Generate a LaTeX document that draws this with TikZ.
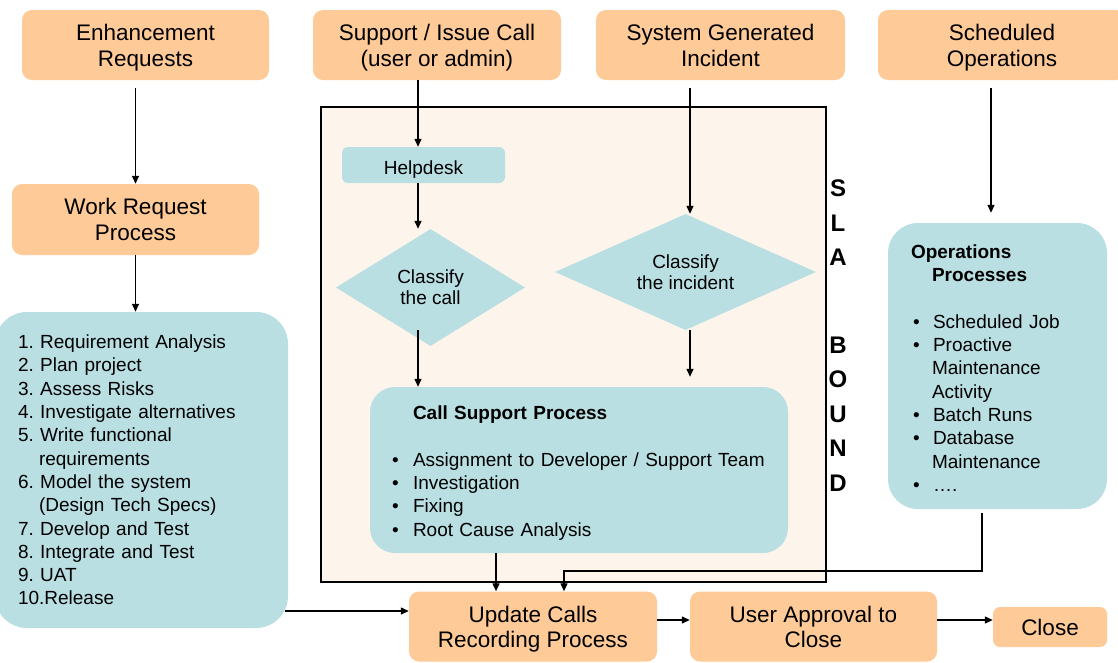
\documentclass[tikz,border=0pt]{standalone}
\usepackage{fontspec}
\setmainfont{Liberation Sans}
\usetikzlibrary{shapes.geometric,arrows.meta,calc}
\definecolor{boxorange}{RGB}{254,202,152}
\definecolor{boxteal}{RGB}{185,223,227}
\definecolor{slafill}{RGB}{253,244,235}
\begin{document}
\begin{tikzpicture}[x=1pt,y=-1pt,
  obox/.style={fill=boxorange, rounded corners=10pt, align=center, inner sep=0pt,
    text depth=0pt, font=\fontsize{22.5}{26}\selectfont},
  tbox/.style={fill=boxteal, inner sep=0pt, font=\frenchspacing\fontsize{19}{23.3}\selectfont},
  dbox/.style={shape=diamond, fill=boxteal, inner sep=0pt, align=center,
    font=\fontsize{19}{21}\selectfont},
  arr/.style={-{Triangle[length=8pt,width=7pt]}, line width=1.3pt},
  slaletters/.style={font=\fontsize{24}{34.5}\bfseries\selectfont, align=center, inner sep=0pt}
]
\useasboundingbox (0,0) rectangle (1118,662);

% SLA region
\node[draw, line width=1.3pt, fill=slafill, minimum width=505pt, minimum height=475pt, inner sep=0pt]
  (sla) at (573.5,344.5) {};
\node[slaletters] (slatext) at (838,335.5) {S\\L\\A\\[53pt]B\\O\\U\\N\\D};

% top row
\node[obox, minimum width=247pt, minimum height=70pt] (enh) at (145.5,45) {Enhancement\\Requests};
\node[obox, minimum width=248pt, minimum height=70pt] (sup) at (437,45) {Support / Issue Call\\(user or admin)};
\node[obox, minimum width=249pt, minimum height=70pt] (sys) at (720.5,45) {System Generated\\Incident};
\node[obox, minimum width=248pt, minimum height=70pt] (sch) at (1002,45) {Scheduled\\Operations};

% left column
\node[obox, minimum width=247pt, minimum height=71pt] (wrp) at (135.5,219.5) {Work Request\\Process};
\node[tbox, rounded corners=32pt, minimum width=293pt, minimum height=316pt, text width=247pt,
  inner xsep=23pt, align=left] (list) at (141.5,470) {%
1. Requirement Analysis\\
2. Plan project\\
3. Assess Risks\\
4. Investigate alternatives\\
5. Write functional\\
\hspace*{21pt}requirements\\
6. Model the system\\
\hspace*{21pt}(Design Tech Specs)\\
7. Develop and Test\\
8. Integrate and Test\\
9. UAT\\
10.Release};

% inside SLA
\node[tbox, rounded corners=6pt, minimum width=163pt, minimum height=36pt, align=center,
  text height=18pt, text depth=0pt] (help) at (423.5,165) {Helpdesk};
\node[dbox, aspect=1.6, minimum width=189pt, minimum height=117pt] (call) at (430.5,287.5) {Classify\\the call};
\node[dbox, aspect=2.25, minimum width=261pt, minimum height=116pt] (inc) at (685.5,272) {Classify\\the incident};
\node[tbox, rounded corners=25pt, minimum width=418pt, minimum height=166pt, text width=374pt,
  inner xsep=22pt, align=left] (cs) at (579,470) {%
\rule{0pt}{20pt}\hspace*{21pt}\textbf{Call Support Process}\\[23pt]
\makebox[21pt][l]{\textbullet}Assignment to Developer / Support Team\\
\makebox[21pt][l]{\textbullet}Investigation\\
\makebox[21pt][l]{\textbullet}Fixing\\
\makebox[21pt][l]{\textbullet}Root Cause Analysis};

% operations
\node[tbox, rounded corners=30pt, minimum width=219pt, minimum height=286pt, text width=173pt,
  inner xsep=23pt, align=left] (ops) at (997.5,366) {%
\rule{0pt}{18pt}\textbf{Operations}\\
\hspace*{21pt}\textbf{Processes}\\[23pt]
\hspace*{2pt}\makebox[20pt][l]{\textbullet}Scheduled Job\\
\hspace*{2pt}\makebox[20pt][l]{\textbullet}Proactive\\
\hspace*{21pt}Maintenance\\
\hspace*{21pt}Activity\\
\hspace*{2pt}\makebox[20pt][l]{\textbullet}Batch Runs\\
\hspace*{2pt}\makebox[20pt][l]{\textbullet}Database\\
\hspace*{21pt}Maintenance\\
\hspace*{2pt}\makebox[20pt][l]{\textbullet}….};

% bottom row
\node[obox, minimum width=248pt, minimum height=70pt, font=\fontsize{22.5}{25}\selectfont]
  (upd) at (533,626.5) {Update Calls\\Recording Process};
\node[obox, minimum width=247pt, minimum height=70pt, font=\fontsize{22.5}{25}\selectfont]
  (uap) at (813.5,626.5) {User Approval to\\Close};
\node[obox, rounded corners=7pt, minimum width=114pt, minimum height=40pt] (close) at (1050,627) {Close};

% guide coordinates
\coordinate (c1) at (418,0);
\coordinate (c2) at (690,0);
\coordinate (c3) at (496,0);
\coordinate (c4) at (991,0);
\coordinate (c5) at (982,0);
\coordinate (c6) at (564,571);
\coordinate (c7) at (285,611);
\coordinate (c8) at (0,620);

% connectors
\draw[arr] ([yshift=-8pt]enh.south -| wrp.north) -- (wrp.north);
\draw[arr] (wrp.south) -- (wrp.south |- list.north);
\draw[arr] (sup.south -| c1) -- (help.north -| c1);
\draw[arr] (help.south -| c1) -- (call.north -| c1);
\draw[arr] ([yshift=16pt]call.south -| c1) -- (cs.north -| c1);
\draw[arr] ([yshift=-8pt]sys.south -| c2) -- (inc.north -| c2);
\draw[arr] (inc.south -| c2) -- ([yshift=10pt]cs.north -| c2);
\draw[arr] (cs.south -| c3) -- (upd.north -| c3);
\draw[arr] ([yshift=-8pt]sch.south -| c4) -- ([yshift=10pt]ops.north -| c4);
\draw[arr] ([yshift=-4pt]ops.south -| c5) |- (c6) -- (upd.north -| c6);
\draw[arr] (c7) -- (upd.west |- c7);
\draw[arr] (upd.east |- c8) -- (uap.west |- c8);
\draw[arr] (uap.east |- c8) -- (close.west |- c8);
\end{tikzpicture}
\end{document}
